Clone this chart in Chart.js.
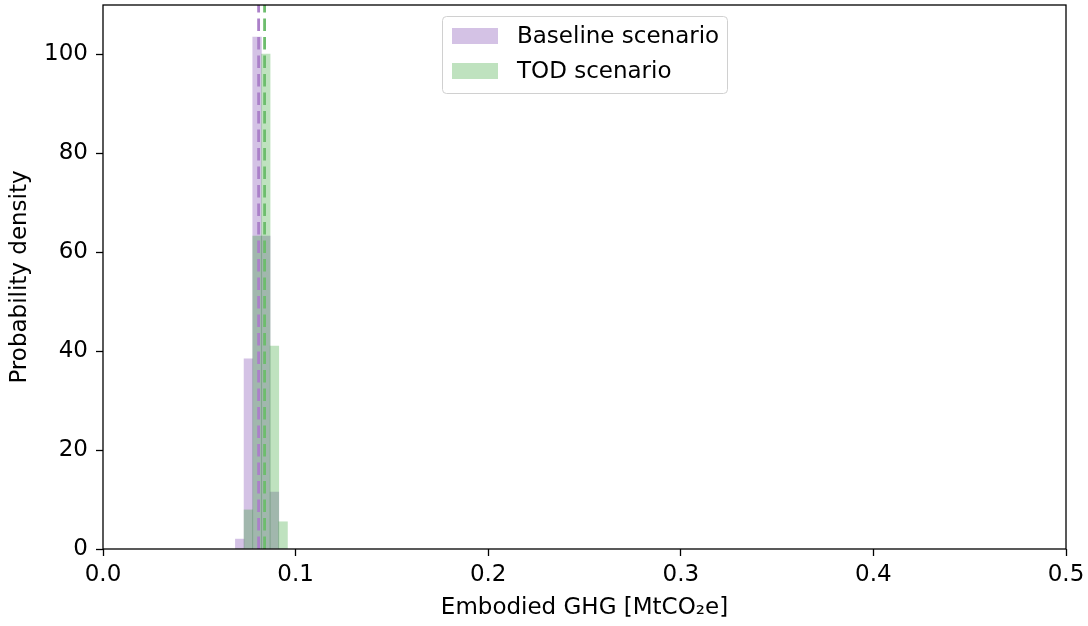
<!DOCTYPE html>
<html>
<head>
<meta charset="utf-8">
<script src="https://cdn.jsdelivr.net/npm/chart.js@4/dist/chart.umd.min.js"></script>
<style>
  html, body { margin: 0; padding: 0; background: #fff; }
  #wrap { width: 1088px; height: 626px; position: relative; }
</style>
</head>
<body>
<div id="wrap"><canvas id="c" width="1088" height="626"></canvas></div>
<script>
// ---- data ----
const binCenters = [0.0710, 0.0755, 0.0800, 0.0845, 0.0890, 0.0935];
const baselineDensity = [2.0, 38.4, 103.4, 63.2, 11.5, 0];
const todDensity = [0, 7.9, 63.2, 100.0, 41.0, 5.5];
const baselineMean = 0.0808;
const todMean = 0.0839;
const xTicks = [0.0, 0.1, 0.2, 0.3, 0.4, 0.5];
const yTicks = [0, 20, 40, 60, 80, 100];
const seriesNames = ['Baseline scenario', 'TOD scenario'];

const FONT = 'DejaVu Sans';
const FS = 23;
const purpleFill = 'rgba(148,103,189,0.4)';
const greenFill = 'rgba(44,160,44,0.3)';

const toPts = arr => binCenters.map((x, i) => ({ x, y: arr[i] }));

const framePlugin = {
  id: 'frame',
  afterDraw(chart) {
    const { ctx, chartArea: a } = chart;
    ctx.save();
    ctx.strokeStyle = '#000';
    ctx.lineWidth = 1.3;
    ctx.strokeRect(a.left, a.top, a.right - a.left, a.bottom - a.top);
    // legend
    const lx = 442, ly = 16, lw = 285, lh = 77;
    ctx.fillStyle = 'rgba(255,255,255,0.8)';
    ctx.strokeStyle = '#d0d0d0';
    ctx.lineWidth = 1;
    ctx.beginPath();
    if (ctx.roundRect) ctx.roundRect(lx + 0.5, ly + 0.5, lw, lh, 4); else ctx.rect(lx + 0.5, ly + 0.5, lw, lh);
    ctx.fill(); ctx.stroke();
    const cols = [purpleFill, greenFill];
    ctx.font = FS + 'px "' + FONT + '"';
    ctx.textBaseline = 'middle';
    seriesNames.forEach((n, i) => {
      const cy = 36 + i * 35;
      ctx.fillStyle = cols[i];
      ctx.fillRect(452, cy - 8, 46, 16);
      ctx.fillStyle = '#000';
      ctx.fillText(n, 517, cy + 1);
    });
    ctx.restore();
  }
};

new Chart(document.getElementById('c'), {
  data: {
    datasets: [
      { type: 'bar', label: seriesNames[0], data: toPts(baselineDensity), backgroundColor: purpleFill, borderWidth: 0, barPercentage: 1, categoryPercentage: 1, grouped: false, order: 2 },
      { type: 'bar', label: seriesNames[1], data: toPts(todDensity), backgroundColor: greenFill, borderWidth: 0, barPercentage: 1, categoryPercentage: 1, grouped: false, order: 1 },
      { type: 'line', label: 'bmean', data: [{ x: baselineMean, y: 0 }, { x: baselineMean, y: 200 }], borderColor: '#ab80c9', borderWidth: 2.8, borderDash: [12.5, 6], pointRadius: 0, order: 0 },
      { type: 'line', label: 'tmean', data: [{ x: todMean, y: 0 }, { x: todMean, y: 200 }], borderColor: '#6dbd6d', borderWidth: 2.8, borderDash: [12.5, 6], pointRadius: 0, order: 0 }
    ]
  },
  options: {
    responsive: false,
    animation: false,
    layout: { padding: { left: 0, right: 22, top: 5, bottom: 0 } },
    plugins: { legend: { display: false }, tooltip: { enabled: false } },
    scales: {
      x: {
        type: 'linear', min: 0, max: 0.5, offset: false,
        afterFit: s => { s.height = 77; s.paddingLeft = 0; s.paddingRight = 0; },
        afterBuildTicks: s => { s.ticks = xTicks.map(v => ({ value: v })); },
        grid: { offset: false, drawOnChartArea: false, drawTicks: true, tickLength: 7, color: '#000', tickWidth: 1.3 },
        border: { display: false },
        ticks: { color: '#000', font: { family: FONT, size: FS }, padding: 5, callback: v => v.toFixed(1) },
        title: { display: true, text: 'Embodied GHG [MtCO₂e]', color: '#000', font: { family: FONT, size: FS }, padding: { top: 2, bottom: 4 } }
      },
      y: {
        type: 'linear', min: 0, max: 109.9,
        afterFit: s => { s.width = 103; s.paddingTop = 0; s.paddingBottom = 0; },
        afterBuildTicks: s => { s.ticks = yTicks.map(v => ({ value: v })); },
        grid: { offset: false, drawOnChartArea: false, drawTicks: true, tickLength: 7, color: '#000', tickWidth: 1.3 },
        border: { display: false },
        ticks: { color: '#000', font: { family: FONT, size: FS }, padding: 8 },
        title: { display: true, text: 'Probability density', color: '#000', font: { family: FONT, size: FS }, padding: { top: 6, bottom: 4 } }
      }
    }
  },
  plugins: [framePlugin]
});
</script>
</body>
</html>
